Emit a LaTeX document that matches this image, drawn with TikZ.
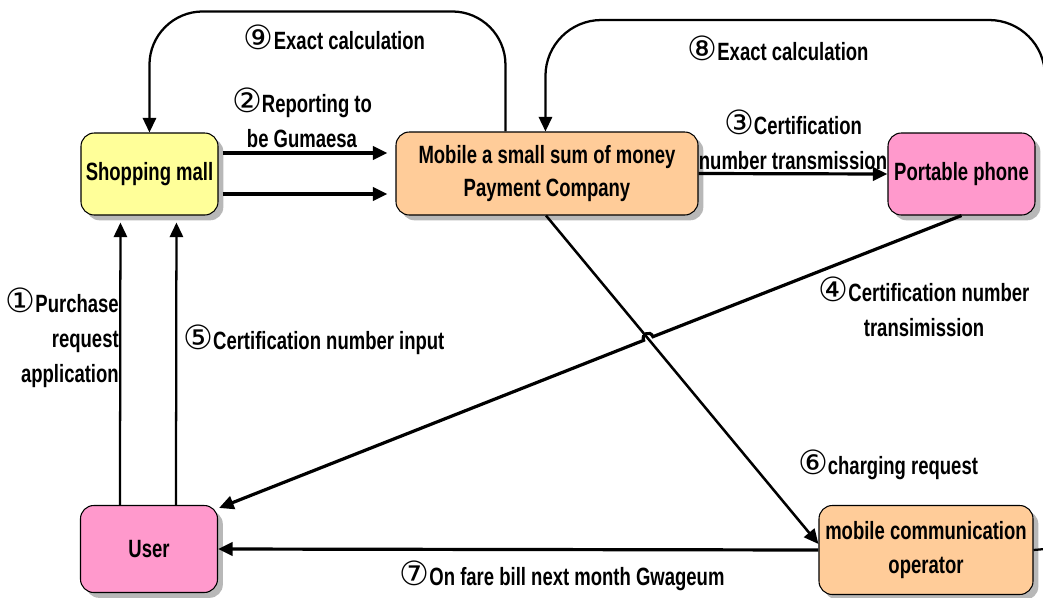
\documentclass[tikz,border=0pt]{standalone}
\usepackage{fontspec}
\setmainfont[FakeStretch=0.74]{Liberation Sans}
\newfontfamily\cnumf{DejaVu Sans}
\newcommand\cnum[1]{{\cnumf\mdseries\fontsize{25pt}{25pt}\selectfont #1}}
\usetikzlibrary{arrows.meta,shadows,calc}
\definecolor{cyel}{HTML}{FFFF99}
\definecolor{corg}{HTML}{FFCC99}
\definecolor{cpnk}{HTML}{FF99CC}
\definecolor{cshd}{HTML}{B8B8B8}
\newcommand\boxfont{\bfseries\fontsize{18.75pt}{25pt}\selectfont}
\newcommand\labfont{\bfseries\fontsize{18.75pt}{26.25pt}\selectfont}
\tikzset{
  box/.style={draw=black, line width=0.8pt, rounded corners=10pt, inner sep=0pt,
    align=center, font=\boxfont,
    drop shadow={shadow xshift=4pt, shadow yshift=-4pt, fill=cshd, opacity=1}},
  lab/.style={inner sep=0pt, align=center, font=\labfont},
  arr/.style={-{Triangle[length=11pt,width=10pt]}, line width=2.4pt},
  midarr/.style={-{Triangle[length=11pt,width=10pt]}, line width=1.9pt},
  thinarr/.style={-{Triangle[length=11pt,width=10pt]}, line width=1.7pt},
}
\begin{document}
\begin{tikzpicture}[x=0.75pt,y=-0.75pt]
\useasboundingbox (0,0) rectangle (1043,597);
\clip (0,0) rectangle (1043,597);

% nodes
\node[box, fill=cyel, minimum width=102.75pt, minimum height=61.5pt] (mall) at (149.5,174) {Shopping mall};
\node[box, fill=corg, minimum width=226.5pt, minimum height=62.25pt] (pay) at (547,173.5) {Mobile a small sum of money\\Payment Company};
\node[box, fill=cpnk, minimum width=110.25pt, minimum height=61.5pt] (phone) at (961.5,174) {Portable phone};
\node[box, fill=cpnk, minimum width=102.75pt, minimum height=65.25pt] (user) at (149,549) {User};
\node[box, fill=corg, minimum width=160.5pt, minimum height=66.75pt] (oper) at (926,550) {mobile communication\\operator};

% (2) two arrows mall -> pay
\draw[arr] ($(mall.east)+(4,-21)$) -- ($(pay.west |- mall.east)+(-8,-21)$);
\draw[arr] ($(mall.east)+(4,20)$) -- ($(pay.west |- mall.east)+(-8,20)$);

% (3) pay -> phone
\draw[arr] (pay.east) -- (phone.west);

% (1) and (5) user -> mall
\draw[thinarr] ($(user.north west)+(40,0)$) -- ($(mall.south west)+(40,7)$);
\draw[thinarr] ($(user.north west)+(96,0)$) -- ($(mall.south west)+(96,7)$);

% (9) pay -> mall loop
\draw[thinarr, rounded corners=40pt] ($(pay.north west)+(110,0)$) -- ++(0,-120) -| ($(mall.north west)+(69,0)$);

% (8) operator -> pay loop
\coordinate (r8) at (1045,549);
\draw[line width=1.7pt] (oper.east) -- (r8);
\draw[thinarr, rounded corners=42pt] (r8) -- (1045,20) -| ($(pay.north west)+(150,0)$);

% (6) pay -> operator
\draw[midarr] ($(pay.south)+(-1,0)$) -- ($(oper.west)+(0,-6)$);

% (4) phone -> user with a jump over (6)
\coordinate (ja) at (652.95,336.67);
\coordinate (jb) at (643.65,340.33);
\draw[arr] (phone.south) -- (ja) .. controls (650.39,330.16) and (641.09,333.82) .. (jb) -- ($(user.north east)+(1,3)$);

% (7) operator -> user
\draw[arr] (oper.west) -- (user.east);

% labels
\node[lab] (l9) at (334.5,37) {\cnum{⑨}Exact calculation};
\node[lab] (l2) at (302,118) {\cnum{②}Reporting to\\be Gumaesa};
\node[lab] (l8) at (778,48) {\cnum{⑧}Exact calculation};
\node[lab] (l3) at (793,140) {\cnum{③}Certification\\number transmission};
\node[lab] (l4) at (924,307) {\cnum{④}Certification number\\transimission};
\node[lab, anchor=east, align=right] (l1) at (119,338) {\cnum{①}Purchase\\request\\application};
\node[lab, anchor=west] (l5) at (183,340) {\cnum{⑤}Certification number input};
\node[lab] (l6) at (888,465) {\cnum{⑥}charging request};
\node[lab] (l7) at (562,576) {\cnum{⑦}On fare bill next month Gwageum};
\end{tikzpicture}
\end{document}
